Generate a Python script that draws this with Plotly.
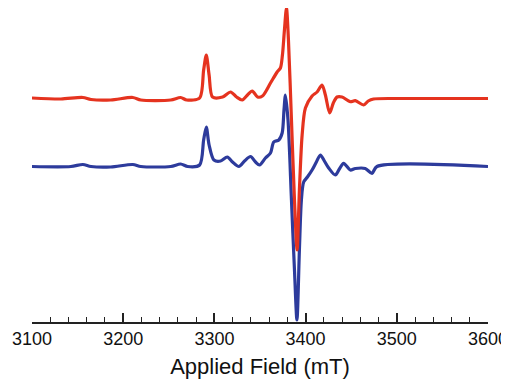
import plotly.graph_objects as go

# Applied field (mT) and intensity (arbitrary units)
red_field = [3100, 3131.7, 3155.8, 3164.6, 3186.4, 3210.5, 3219.3, 3252.1, 3263, 3269.6,
             3283.8, 3288.2, 3291.1, 3294.2, 3298, 3309, 3317.7, 3324.3, 3330.5, 3336.3,
             3341.5, 3347.3, 3352.7, 3361.5, 3368.8, 3372.4, 3374.6, 3376.8, 3379, 3381.2,
             3384.5, 3387.8, 3390.7, 3393.2, 3396.2, 3399.8, 3407.1, 3412.6, 3418, 3421.7,
             3426.4, 3430.4, 3434.5, 3439.9, 3449, 3454.5, 3463.6, 3468.7, 3474.5, 3503.7, 3600]
red_signal = [222, 221, 222.5, 220.5, 220, 222.5, 220, 220, 222.5, 220,
              222, 250, 265, 245, 223, 223, 228, 223, 220, 225,
              229, 223, 224, 237, 248, 252, 265, 290, 312, 280,
              200, 120, 70, 130, 185, 212, 224, 228, 235, 225,
              207, 217, 223, 223, 218.3, 219.3, 215, 219, 221, 221.5, 221.5]

blue_field = [3100, 3142.7, 3155.8, 3164.6, 3186.4, 3210.5, 3219.3, 3252.1, 3263, 3270.7,
              3283.8, 3288.2, 3291.1, 3294.2, 3299.5, 3306.8, 3314.1, 3319.9, 3326.8, 3333,
              3339.6, 3345.1, 3349.5, 3356, 3361.5, 3365.1, 3370.6, 3374.3, 3376.3, 3377.9,
              3380.7, 3384.5, 3387.8, 3390.5, 3393.2, 3395.4, 3397.9, 3402, 3407.1, 3411.8,
              3416.2, 3420.6, 3425.3, 3432.6, 3437, 3441.7, 3449, 3454.5, 3465.4, 3472.8,
              3478.2, 3600]
blue_signal = [153.5, 153.5, 155.5, 153.5, 153, 155.5, 153.5, 153.5, 156, 153.5,
               155, 180, 193, 175, 160, 159, 163, 158, 153.5, 159,
               163.5, 158, 155, 162, 167, 178, 180, 187, 210, 225,
               200, 120, 50, 0, 70, 120, 138, 143, 150, 158,
               165, 159, 152, 145, 151, 156.7, 150, 151.5, 151.5, 146.7,
               153.5, 153.5]

tick_vals = [3100, 3200, 3300, 3400, 3500, 3600]
tick_text = ["3100", "3200", "3300", "3400", "3500", "3600"]

fig = go.Figure()
fig.add_trace(go.Scatter(x=blue_field, y=blue_signal, mode="lines",
                         line=dict(color="#2d3b9c", width=3.2, shape="spline", smoothing=0.8),
                         showlegend=False, hoverinfo="skip"))
fig.add_trace(go.Scatter(x=red_field, y=red_signal, mode="lines",
                         line=dict(color="#e5331f", width=3.2, shape="spline", smoothing=0.8),
                         showlegend=False, hoverinfo="skip"))

# page body adds an 8px offset, so the figure is sized to fill the rest of the window
fig.update_layout(
    width=501, height=371,
    margin=dict(l=24, r=21, t=0, b=57, autoexpand=False),
    paper_bgcolor="white", plot_bgcolor="white",
    font=dict(family="Liberation Sans, Arial, sans-serif", color="#111111"),
    xaxis=dict(range=[3100, 3600], tickvals=tick_vals, ticktext=tick_text,
               ticks="inside", ticklen=9, tickwidth=1.5, tickcolor="#222222",
               showline=True, linecolor="#222222", linewidth=1.5,
               showgrid=False, zeroline=False, automargin=False,
               tickfont=dict(size=18), ticklabelstandoff=0,
               minor=dict(dtick=20, ticks="inside", ticklen=5, tickwidth=1.2,
                          tickcolor="#222222", showgrid=False),
               title=dict(text="Applied Field (mT)", font=dict(size=22), standoff=10)),
    yaxis=dict(range=[-2, 312], visible=False, showgrid=False, zeroline=False),
)

fig.write_html("out.html")
